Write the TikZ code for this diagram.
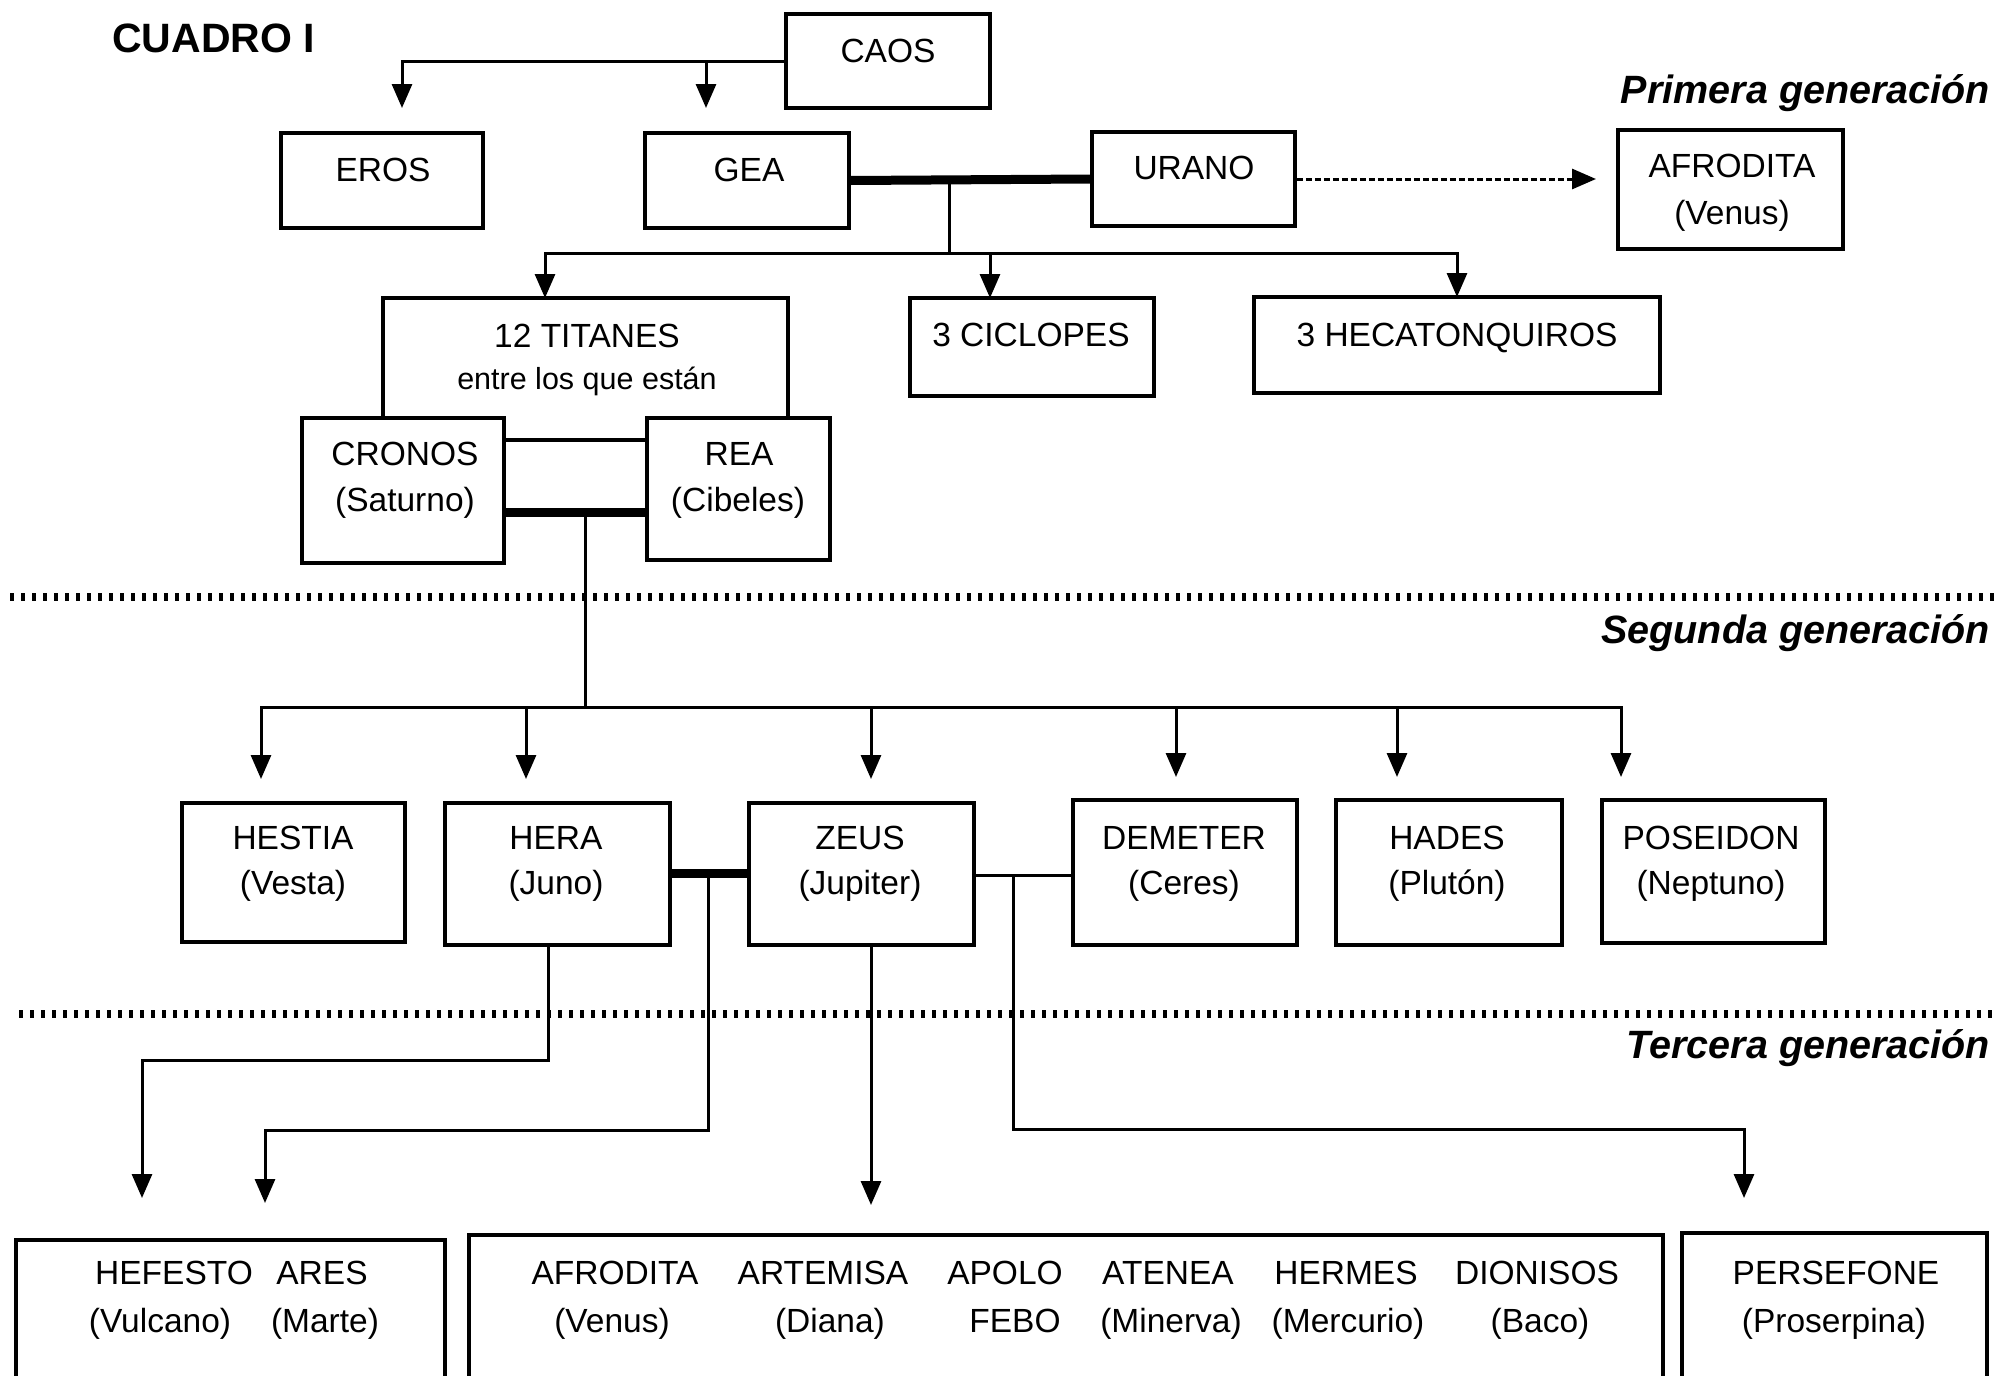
\documentclass[tikz,border=0pt]{standalone}
\usepackage{fontspec}
\setmainfont{Liberation Sans}
\usetikzlibrary{arrows.meta}
\begin{document}
\begin{tikzpicture}[x=1pt,y=-1pt,
  box/.style={draw, line width=3.5pt, fill=white, inner sep=0pt},
  txt/.style={font=\fontsize{33.5}{40}\selectfont, inner sep=0pt, anchor=base},
  smalltxt/.style={font=\fontsize{30.5}{36}\selectfont, inner sep=0pt, anchor=base},
  gen/.style={font=\fontsize{39.5}{46}\selectfont\bfseries\itshape, inner sep=0pt, anchor=base east},
  conn/.style={line width=3pt},
  arr/.style={line width=3pt, -{Triangle[width=20pt,length=24pt]}},
  marriage/.style={line width=9pt},
  sepline/.style={line width=8pt, dash pattern=on 4pt off 7pt},
]
\clip (0,0) rectangle (1995,1376);
\fill[white] (0,0) rectangle (1995,1376);

% headings
\node[font=\bfseries\fontsize{41}{48}\selectfont, anchor=base west, inner sep=0pt] (cuadro) at (112,52) {CUADRO I};
\node[gen] (gen1) at (1990,103) {Primera generación};
\node[gen] (gen2) at (1990,643) {Segunda generación};
\node[gen] (gen3) at (1990,1058) {Tercera generación};

% separators
\coordinate (s1a) at (10,597); \coordinate (s1b) at (1995,597);
\coordinate (s2a) at (19,1014); \coordinate (s2b) at (1995,1014);
\draw[sepline] (s1a) -- (s1b);
\draw[sepline] (s2a) -- (s2b);

% ---------- first generation ----------
\node[box, minimum width=204pt, minimum height=94pt] (caos) at (888,61) {};
\node[txt] (caosT) at (888,62) {CAOS};
\node[box, minimum width=202pt, minimum height=95pt] (eros) at (382,180.5) {};
\node[txt] (erosT) at (383,181) {EROS};
\node[box, minimum width=204pt, minimum height=95pt] (gea) at (747,180.5) {};
\node[txt] (geaT) at (749,181) {GEA};
\node[box, minimum width=203pt, minimum height=94pt] (urano) at (1193.5,179) {};
\node[txt] (uranoT) at (1194,179) {URANO};
\node[box, minimum width=225pt, minimum height=119pt] (afro1) at (1730.5,189.5) {};
\node[txt] (afro1T) at (1732,177) {AFRODITA};
\node[txt] (afro1V) at (1732,224) {(Venus)};

\node[box, minimum width=405pt, minimum height=142pt] (titanes) at (585.5,369) {};
\node[txt] (titT) at (587,347) {12 TITANES};
\node[smalltxt] (titS) at (587,389) {entre los que están};
\node[box, minimum width=244pt, minimum height=98pt] (ciclopes) at (1032,347) {};
\node[txt] (cicT) at (1031,346) {3 CICLOPES};
\node[box, minimum width=406pt, minimum height=96pt] (hecat) at (1457,345) {};
\node[txt] (hecT) at (1457,346) {3 HECATONQUIROS};

\node[box, minimum width=202pt, minimum height=145pt] (cronos) at (403,490.5) {};
\node[txt] (cronT) at (405,465) {CRONOS};
\node[txt] (cronS) at (405,511) {(Saturno)};
\node[box, minimum width=183pt, minimum height=142pt] (rea) at (738.5,489) {};
\node[txt] (reaT) at (739,465) {REA};
\node[txt] (reaS) at (738,511) {(Cibeles)};

% connectors first generation
\coordinate (erosIn) at (402,108);
\coordinate (geaIn) at (706,108);
\draw[arr] (caos.west) -| (erosIn);
\draw[arr] (caos.west -| geaIn) -- (geaIn);
\draw[marriage] (gea.east) -- (urano.west);
\coordinate (afroIn) at (1596,179);
\draw[arr, dash pattern=on 6pt off 3pt] (urano.east) -- (afroIn);
\coordinate (gu) at (949,180);
\coordinate (bus1) at (949,253);
\coordinate (titIn) at (545,298);
\coordinate (cicIn) at (990,298);
\coordinate (hecIn) at (1457,297);
\draw[conn] (gu) -- (bus1);
\draw[arr] (bus1) -| (titIn);
\draw[arr] (bus1) -| (cicIn);
\draw[arr] (bus1) -| (hecIn);

\coordinate (cr) at (585,512);
\draw[marriage] (cronos.east |- cr) -- (rea.west |- cr);
\coordinate (bus2) at (585,707);
\draw[conn] (cr) -- (bus2);

% ---------- second generation ----------
\node[box, minimum width=223pt, minimum height=139pt] (hestia) at (293.5,872.5) {};
\node[txt] (hestiaT) at (293,849) {HESTIA};
\node[txt] (hestiaS) at (293,894) {(Vesta)};
\node[box, minimum width=225pt, minimum height=142pt] (hera) at (557.5,874) {};
\node[txt] (heraT) at (556,849) {HERA};
\node[txt] (heraS) at (556,894) {(Juno)};
\node[box, minimum width=225pt, minimum height=142pt] (zeus) at (861.5,874) {};
\node[txt] (zeusT) at (860,849) {ZEUS};
\node[txt] (zeusS) at (860,894) {(Jupiter)};
\node[box, minimum width=224pt, minimum height=145pt] (demeter) at (1185,872.5) {};
\node[txt] (demT) at (1184,849) {DEMETER};
\node[txt] (demS) at (1184,894) {(Ceres)};
\node[box, minimum width=226pt, minimum height=145pt] (hades) at (1449,872.5) {};
\node[txt] (hadT) at (1447,849) {HADES};
\node[txt] (hadS) at (1447,894) {(Plutón)};
\node[box, minimum width=223pt, minimum height=143pt] (poseidon) at (1713.5,871.5) {};
\node[txt] (posT) at (1711,849) {POSEIDON};
\node[txt] (posS) at (1711,894) {(Neptuno)};

\coordinate (hestiaIn) at (261,779);
\coordinate (heraIn) at (526,779);
\coordinate (zeusIn) at (871,779);
\coordinate (demIn) at (1176,777);
\coordinate (hadIn) at (1397,777);
\coordinate (posIn) at (1621,777);
\draw[arr] (bus2) -| (hestiaIn);
\draw[arr] (bus2) -| (heraIn);
\draw[arr] (bus2) -| (zeusIn);
\draw[arr] (bus2) -| (demIn);
\draw[arr] (bus2) -| (hadIn);
\draw[arr] (bus2) -| (posIn);

% ---------- third generation ----------
\node[box, minimum width=429pt, minimum height=160pt] (boxA) at (230.5,1320) {};
\node[box, minimum width=1194pt, minimum height=165pt] (boxB) at (1066,1317.5) {};
\node[box, minimum width=305pt, minimum height=167pt] (boxC) at (1834.5,1316.5) {};

\node[txt] (hefT) at (174,1284) {HEFESTO};
\node[txt] (hefS) at (160,1332) {(Vulcano)};
\node[txt] (aresT) at (322,1284) {ARES};
\node[txt] (aresS) at (325,1332) {(Marte)};
\node[txt] (afro2T) at (615,1284) {AFRODITA};
\node[txt] (afro2S) at (612,1332) {(Venus)};
\node[txt] (artT) at (823,1284) {ARTEMISA};
\node[txt] (artS) at (830,1332) {(Diana)};
\node[txt] (apoT) at (1005,1284) {APOLO};
\node[txt] (apoS) at (1015,1332) {FEBO};
\node[txt] (ateT) at (1168,1284) {ATENEA};
\node[txt] (ateS) at (1171,1332) {(Minerva)};
\node[txt] (herT) at (1346,1284) {HERMES};
\node[txt] (herS) at (1348,1332) {(Mercurio)};
\node[txt] (dioT) at (1537,1284) {DIONISOS};
\node[txt] (dioS) at (1540,1332) {(Baco)};
\node[txt] (perT) at (1836,1284) {PERSEFONE};
\node[txt] (perS) at (1834,1332) {(Proserpina)};

% connectors second -> third generation
\coordinate (hz) at (708,873);
\draw[marriage] (hera.east |- hz) -- (zeus.west |- hz);
\coordinate (hzLow) at (708,1130);
\coordinate (aresIn) at (265,1203);
\draw[arr] (hz) -- (hzLow) -| (aresIn);
\coordinate (heraLow) at (548,1060);
\coordinate (hefIn) at (142,1198);
\draw[arr] (hera.south -| heraLow) -- (heraLow) -| (hefIn);
\coordinate (zeusOut) at (871,1205);
\draw[arr] (zeus.south -| zeusOut) -- (zeusOut);
\coordinate (zd) at (1013,875);
\draw[conn] (zeus.east |- zd) -- (demeter.west |- zd);
\coordinate (zdLow) at (1013,1129);
\coordinate (perIn) at (1744,1198);
\draw[arr] (zd) -- (zdLow) -| (perIn);
\end{tikzpicture}
\end{document}
